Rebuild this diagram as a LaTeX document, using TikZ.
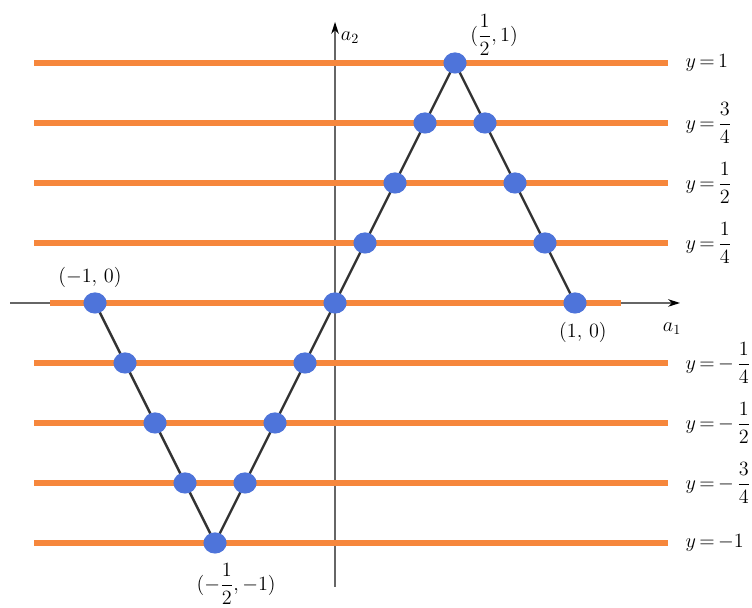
\documentclass[tikz,border=0pt]{standalone}
\usepackage{amsmath}
\usepackage{tikz}
\usetikzlibrary{arrows.meta,shapes.geometric}
\definecolor{lvlorange}{RGB}{246,135,60}
\definecolor{dotblue}{RGB}{78,116,218}
\tikzset{
  lvlline/.style  = {lvlorange,line width=3.6pt},
  axisline/.style = {-{Stealth[length=3mm,width=1.9mm,color=black]},gray!80!black,line width=0.8pt},
  zigline/.style  = {black!80,line width=1.7pt},
  hit/.style      = {ellipse,fill=dotblue,inner sep=0pt,minimum width=5.8mm,minimum height=5.3mm},
  lab/.style      = {font={\fontsize{14.5}{17}\selectfont\thickmuskip=3mu}}
}

\begin{document}
\begin{tikzpicture}[x=6cm,y=6cm]
  \useasboundingbox (-1.396,-1.267) rectangle (1.7375,1.2625);
  % axes
  \draw[axisline] (-1.354,0) -- (1.4375,0);
  \draw[axisline] (0,-1.183) -- (0,1.171);
  % level lines
  \draw[lvlline] (-1.254,1)     -- (1.3875,1);
  \draw[lvlline] (-1.254,0.75)  -- (1.3875,0.75);
  \draw[lvlline] (-1.254,0.5)   -- (1.3875,0.5);
  \draw[lvlline] (-1.254,0.25)  -- (1.3875,0.25);
  \draw[lvlline] (-1.1875,0)    -- (1.19,0);
  \draw[lvlline] (-1.254,-0.25) -- (1.3875,-0.25);
  \draw[lvlline] (-1.254,-0.5)  -- (1.3875,-0.5);
  \draw[lvlline] (-1.254,-0.75) -- (1.3875,-0.75);
  \draw[lvlline] (-1.254,-1)    -- (1.3875,-1);
  % zigzag
  \coordinate (m) at (-1,0);
  \coordinate (b) at (-0.5,-1);
  \coordinate (t) at (0.5,1);
  \coordinate (p) at (1,0);
  \draw[zigline] (m) -- (b) -- (t) -- (p);
  \node[hit] (hm) at (m) {};
  \node[hit] (hb) at (b) {};
  \node[hit] (ht) at (t) {};
  \node[hit] (hp) at (p) {};
  \node[hit] (l1) at (-0.875,-0.25) {};
  \node[hit] (l2) at (-0.75,-0.5)   {};
  \node[hit] (l3) at (-0.625,-0.75) {};
  \node[hit] (c1) at (-0.375,-0.75) {};
  \node[hit] (c2) at (-0.25,-0.5)   {};
  \node[hit] (c3) at (-0.125,-0.25) {};
  \node[hit] (c4) at (0,0)          {};
  \node[hit] (c5) at (0.125,0.25)   {};
  \node[hit] (c6) at (0.25,0.5)     {};
  \node[hit] (c7) at (0.375,0.75)   {};
  \node[hit] (r1) at (0.625,0.75)   {};
  \node[hit] (r2) at (0.75,0.5)     {};
  \node[hit] (r3) at (0.875,0.25)   {};
  % labels
  \node[lab] (lm) at (-1.021,0.108)  {$(-1,\,0)$};
  \node[lab] (lt) at (0.6625,1.117)  {$(\dfrac{1}{2},1)$};
  \node[lab] (lp) at (1.033,-0.121)  {$(1,\,0)$};
  \node[lab] (lb) at (-0.412,-1.171) {$(-\dfrac{1}{2},-1)$};
  \node[lab] (a1) at (1.404,-0.108)  {$a_1$};
  \node[lab] (a2) at (0.0625,1.104)  {$a_2$};
  \node[lab,anchor=west] (y1) at (1.44,1)     {$y=1$};
  \node[lab,anchor=west] (y2) at (1.44,0.75)  {$y=\dfrac{3}{4}$};
  \node[lab,anchor=west] (y3) at (1.44,0.5)   {$y=\dfrac{1}{2}$};
  \node[lab,anchor=west] (y4) at (1.44,0.25)  {$y=\dfrac{1}{4}$};
  \node[lab,anchor=west] (y5) at (1.44,-0.25) {$y=-\,\dfrac{1}{4}$};
  \node[lab,anchor=west] (y6) at (1.44,-0.5)  {$y=-\,\dfrac{1}{2}$};
  \node[lab,anchor=west] (y7) at (1.44,-0.75) {$y=-\,\dfrac{3}{4}$};
  \node[lab,anchor=west] (y8) at (1.44,-1)    {$y=-1$};
\end{tikzpicture}
\end{document}
